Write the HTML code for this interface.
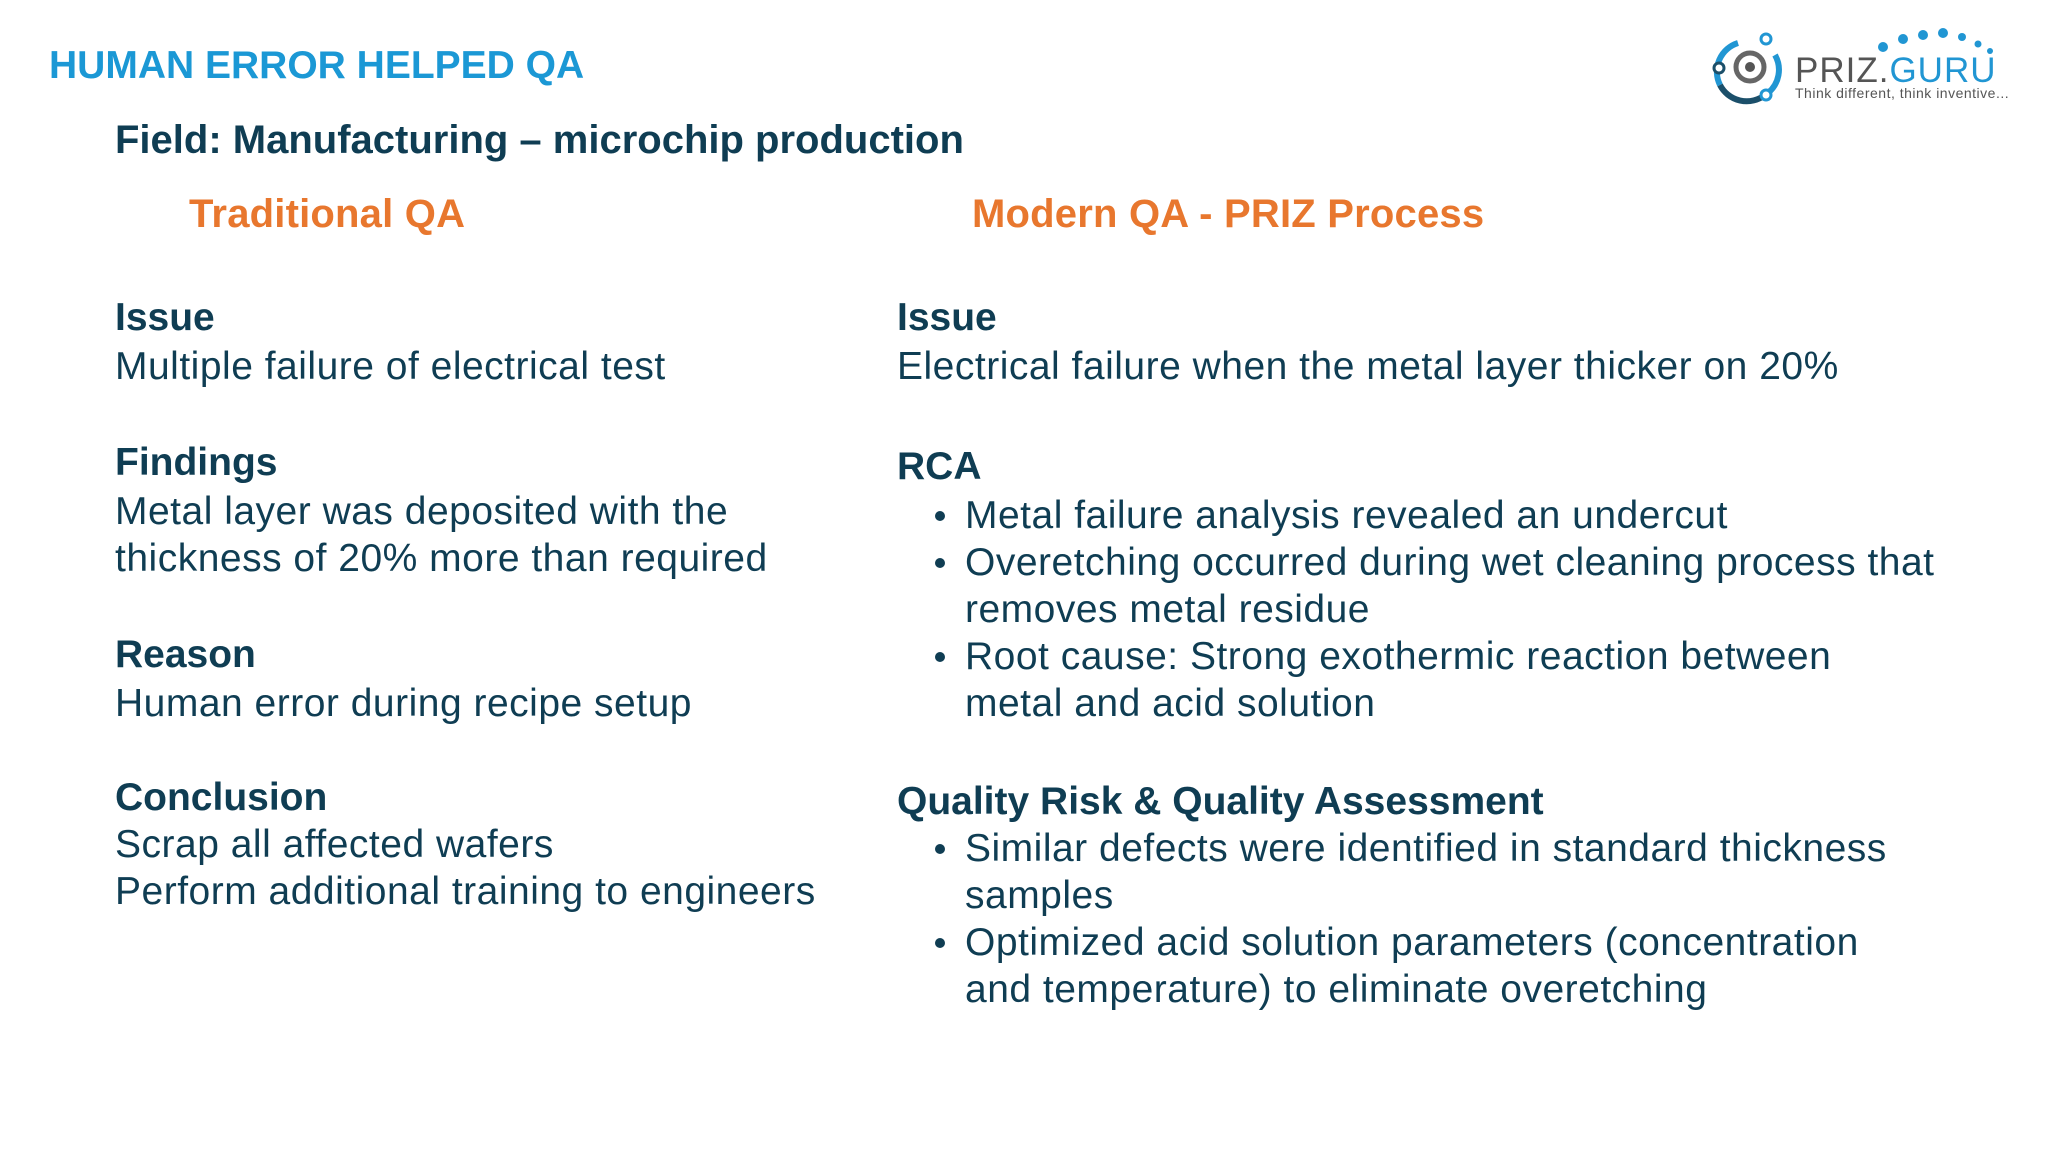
<!DOCTYPE html>
<html><head><meta charset="utf-8"><style>
body{margin:0;width:2048px;height:1152px;background:#fff;position:relative;overflow:hidden;font-family:"Liberation Sans",sans-serif;color:#0f3d53}
.t{position:absolute;white-space:nowrap;line-height:47px;font-size:39px;letter-spacing:0.5px}
.b{font-weight:bold;letter-spacing:0}
.o{color:#e8772e;font-weight:bold;font-size:40px;letter-spacing:0.2px}
.bul{position:absolute;width:10px;height:10px;border-radius:50%;background:#0f3d53}
</style></head><body>
<div class="t b" style="left:49px;top:42px;font-size:39px;color:#1b98d5">HUMAN ERROR HELPED QA</div>
<div class="t b" style="left:115px;top:117px;font-size:40px">Field: Manufacturing – microchip production</div>
<div class="t o" style="left:189px;top:191px">Traditional QA</div>
<div class="t o" style="left:972px;top:191px">Modern QA - PRIZ Process</div>

<div>
<div class="t b" style="left:115px;top:294px">Issue</div>
<div class="t" style="left:115px;top:343px">Multiple failure of electrical test</div>
<div class="t b" style="left:115px;top:439px">Findings</div>
<div class="t" style="left:115px;top:488px">Metal layer was deposited with the</div>
<div class="t" style="left:115px;top:535px">thickness of 20% more than required</div>
<div class="t b" style="left:115px;top:631px">Reason</div>
<div class="t" style="left:115px;top:680px">Human error during recipe setup</div>
<div class="t b" style="left:115px;top:774px">Conclusion</div>
<div class="t" style="left:115px;top:821px">Scrap all affected wafers</div>
<div class="t" style="left:115px;top:868px">Perform additional training to engineers</div>
</div>

<div>
<div class="t b" style="left:897px;top:294px">Issue</div>
<div class="t" style="left:897px;top:343px">Electrical failure when the metal layer thicker on 20%</div>
<div class="t b" style="left:897px;top:443px">RCA</div>
<div class="bul" style="left:935px;top:511px"></div>
<div class="t" style="left:965px;top:492px">Metal failure analysis revealed an undercut</div>
<div class="bul" style="left:935px;top:558px"></div>
<div class="t" style="left:965px;top:539px">Overetching occurred during wet cleaning process that</div>
<div class="t" style="left:965px;top:586px">removes metal residue</div>
<div class="bul" style="left:935px;top:652px"></div>
<div class="t" style="left:965px;top:633px">Root cause: Strong exothermic reaction between</div>
<div class="t" style="left:965px;top:680px">metal and acid solution</div>
<div class="t b" style="left:897px;top:778px">Quality Risk &amp; Quality Assessment</div>
<div class="bul" style="left:935px;top:844px"></div>
<div class="t" style="left:965px;top:825px">Similar defects were identified in standard thickness</div>
<div class="t" style="left:965px;top:872px">samples</div>
<div class="bul" style="left:935px;top:938px"></div>
<div class="t" style="left:965px;top:919px">Optimized acid solution parameters (concentration</div>
<div class="t" style="left:965px;top:966px">and temperature) to eliminate overetching</div>
</div>

<svg style="position:absolute;left:1700px;top:25px" width="340" height="85" viewBox="0 0 340 85">
<path d="M38 18 A30 30 0 0 0 20 60" fill="none" stroke="#2196d3" stroke-width="6"/>
<path d="M20 60 A30 30 0 0 0 65 70" fill="none" stroke="#1b4f6a" stroke-width="6"/>
<path d="M75 30 A30 30 0 0 1 68 68" fill="none" stroke="#2196d3" stroke-width="6"/>
<circle cx="50" cy="42" r="14" fill="none" stroke="#666" stroke-width="5"/>
<circle cx="50" cy="42" r="5" fill="#555"/>
<circle cx="66" cy="14" r="5" fill="#fff" stroke="#2196d3" stroke-width="3"/>
<circle cx="19" cy="43" r="5" fill="#fff" stroke="#1b4f6a" stroke-width="3"/>
<circle cx="66" cy="70" r="5" fill="#fff" stroke="#2196d3" stroke-width="3"/>
<g fill="#2196d3"><circle cx="183" cy="22" r="5"/><circle cx="203" cy="14" r="5"/><circle cx="223" cy="10" r="5"/><circle cx="243" cy="8" r="5"/><circle cx="262" cy="12" r="4"/><circle cx="278" cy="19" r="3.5"/><circle cx="290" cy="26" r="3"/></g>
<text x="95" y="57" font-family="Liberation Sans,sans-serif" font-size="35" fill="#555" letter-spacing="1">PRIZ.<tspan fill="#2196d3">GURU</tspan></text>
<text x="95" y="73" font-family="Liberation Sans,sans-serif" font-size="14" fill="#555" letter-spacing="0.5">Think different, think inventive...</text>
</svg>
</body></html>
